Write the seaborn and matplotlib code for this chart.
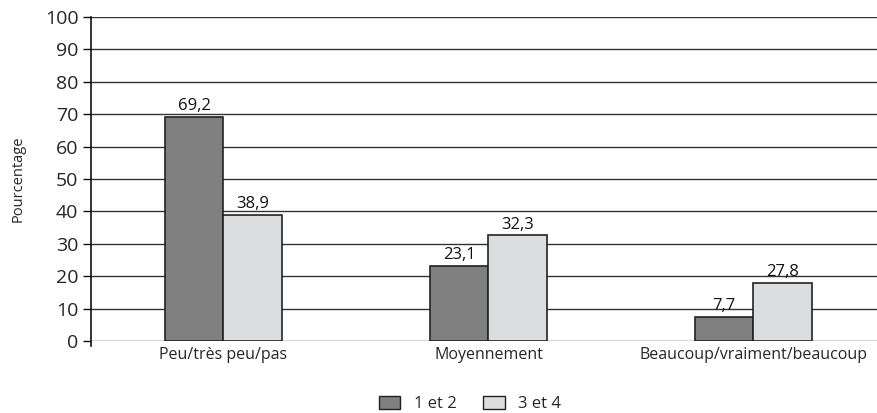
import pandas as pd
import matplotlib.pyplot as plt
import seaborn as sns

sns.set_style("white")
plt.rcParams['font.family'] = ['Open Sans', 'DejaVu Sans']

# Data
categories = ["Peu/très peu/pas", "Moyennement", "Beaucoup/vraiment/beaucoup"]
groups = ["1 et 2", "3 et 4"]
values_12 = [69.2, 23.1, 7.4]
values_34 = [38.9, 32.6, 18.0]
labels_12 = ["69,2", "23,1", "7,7"]
labels_34 = ["38,9", "32,3", "27,8"]
colors = ["#808080", "#dcdddf"]

df = pd.DataFrame({
    "Catégorie": categories * 2,
    "Groupe": [groups[0]] * 3 + [groups[1]] * 3,
    "Pourcentage": values_12 + values_34,
})

fig = plt.figure(figsize=(8.78, 4.13), dpi=100)
ax = fig.add_axes([0.1036, 0.174, 0.8964, 0.785])

sns.barplot(data=df, x="Catégorie", y="Pourcentage", hue="Groupe",
            order=categories, hue_order=groups, palette=colors,
            width=0.444, edgecolor="#222222", linewidth=1.2,
            legend=False, ax=ax, zorder=3)

# value labels
for cont, labs in zip(ax.containers, [labels_12, labels_34]):
    ax.bar_label(cont, labels=labs, padding=2, fontsize=12, color="#111111")

ax.set_ylim(0, 100)
ax.set_xlim(-0.5, 2.47)
ax.set_yticks(range(0, 101, 10))
ax.yaxis.grid(True, color="#333333", linewidth=1, zorder=0)
ax.set_axisbelow(True)
for s in ["top", "right", "bottom"]:
    ax.spines[s].set_visible(False)
ax.spines["left"].set_color("#111111")
ax.spines["left"].set_linewidth(1.2)
ax.spines["left"].set_bounds(-1.5, 100)
ax.tick_params(axis="y", direction="out", length=6, width=1, labelsize=14,
               color="#111111", left=True, pad=3)
ax.tick_params(axis="x", length=0, labelsize=11.5, pad=4)
ax.set_xlabel("")
ax.set_ylabel("Pourcentage", fontsize=10.5, labelpad=14)
ax.set_ylim(0, 100)

handles = [plt.Rectangle((0, 0), 1, 1, facecolor=c, edgecolor="#222222", linewidth=1)
           for c in colors]
fig.legend(handles, groups, loc="lower center", bbox_to_anchor=(0.535, -0.035),
           ncol=2, frameon=False, fontsize=12, handlelength=1.3, handleheight=0.8,
           handletextpad=0.8, columnspacing=1.6)

fig.savefig("out.png", dpi=100)
